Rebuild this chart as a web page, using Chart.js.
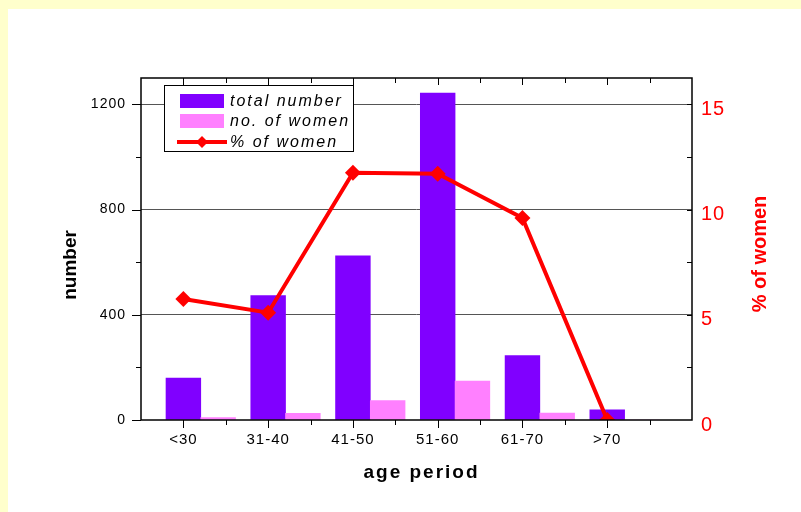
<!DOCTYPE html>
<html>
<head>
<meta charset="utf-8">
<script src="https://cdn.jsdelivr.net/npm/chart.js@4.4.1/dist/chart.umd.min.js"></script>
<style>
  html, body { margin: 0; padding: 0; background: #ffffcc; }
  #wrap { position: absolute; left: 8px; top: 9px; width: 793px; height: 503px; background: #fff; }
</style>
</head>
<body>
<div id="wrap"><canvas id="myChart"></canvas></div>
<script>
const categories = ['<30', '31-40', '41-50', '51-60', '61-70', '>70'];
const totalNumber = [159, 473, 624, 1243, 245, 39];
const womenNumber = [9, 25, 74, 148, 26, 0];
const womenPercent = [5.75, 5.1, 11.75, 11.7, 9.6, 0];
const leftTicks = [0, 400, 800, 1200];
const rightTicks = [0, 5, 10, 15];

const fontFamily = 'Arial, "Liberation Sans", sans-serif';
const womenShift = 0.41;   // pink bar sits just right of the purple one

// frame, small ticks, axis titles and the boxed legend
const decor = {
    id: 'decor',
    beforeDraw(chart) {
        chart.ctx.letterSpacing = '1px';
    },
    afterDraw(chart) {
        const ctx = chart.ctx;
        const a = chart.chartArea;
        const x = chart.scales.x, y = chart.scales.y, y2 = chart.scales.y2;
        ctx.save();
        ctx.letterSpacing = '0px';
        ctx.strokeStyle = '#000';
        ctx.lineWidth = 1.5;
        ctx.strokeRect(a.left, a.top, a.right - a.left, a.bottom - a.top);

        ctx.lineWidth = 1;
        ctx.beginPath();
        for (let v = 0; v <= 5.5; v += 0.5) {
            const px = Math.round(x.getPixelForValue(v)) + 0.5;
            const major = Number.isInteger(v);
            ctx.moveTo(px, a.bottom);
            ctx.lineTo(px, a.bottom + (major ? 8 : 5));
            ctx.moveTo(px, a.top);
            ctx.lineTo(px, a.top + (major ? 7 : 5));
        }
        for (let v = 0; v <= 1200; v += 200) {
            const py = Math.round(y.getPixelForValue(v)) + 0.5;
            ctx.moveTo(a.left, py);
            ctx.lineTo(a.left - (v % 400 === 0 ? 9 : 5), py);
        }
        for (let v = 2.5; v <= 15; v += 2.5) {
            const py = Math.round(y2.getPixelForValue(v)) + 0.5;
            ctx.moveTo(a.right, py);
            ctx.lineTo(a.right - 5, py);
        }
        ctx.stroke();

        // axis titles
        ctx.textAlign = 'center';
        ctx.textBaseline = 'middle';
        ctx.font = 'bold 19px ' + fontFamily;
        ctx.fillStyle = '#000';
        ctx.save();
        ctx.translate(a.left - 70, a.top + 187);
        ctx.rotate(-Math.PI / 2);
        ctx.fillText('number', 0, 0);
        ctx.restore();

        ctx.save();
        ctx.letterSpacing = '2px';
        ctx.fillText('age period', (a.left + a.right) / 2 + 5, a.bottom + 53);
        ctx.restore();

        ctx.save();
        ctx.fillStyle = '#ff0000';
        ctx.font = 'bold 20px ' + fontFamily;
        ctx.translate(a.right + 68, a.top + 176);
        ctx.rotate(-Math.PI / 2);
        ctx.fillText('% of women', 0, 0);
        ctx.restore();

        // legend
        const bx = a.left + 23, by = a.top + 7;
        ctx.fillStyle = '#fff';
        ctx.fillRect(bx, by, 189, 66);
        ctx.strokeStyle = '#000';
        ctx.lineWidth = 1;
        ctx.strokeRect(bx + 0.5, by + 0.5, 189, 66);

        const ds = chart.data.datasets;
        const rows = [16, 36, 57];
        ctx.fillStyle = ds[0].backgroundColor;
        ctx.fillRect(bx + 16, by + rows[0] - 7, 44, 14);
        ctx.fillStyle = ds[1].backgroundColor;
        ctx.fillRect(bx + 16, by + rows[1] - 7, 44, 14);
        ctx.strokeStyle = ds[2].borderColor;
        ctx.lineWidth = 4;
        ctx.beginPath();
        ctx.moveTo(bx + 13, by + rows[2]);
        ctx.lineTo(bx + 63, by + rows[2]);
        ctx.stroke();
        ctx.fillStyle = ds[2].borderColor;
        ctx.beginPath();
        const cx = bx + 38, cy = by + rows[2];
        ctx.moveTo(cx - 6, cy); ctx.lineTo(cx, cy - 6); ctx.lineTo(cx + 6, cy); ctx.lineTo(cx, cy + 6);
        ctx.closePath();
        ctx.fill();

        ctx.fillStyle = '#000';
        ctx.textAlign = 'left';
        ctx.font = 'italic 16px ' + fontFamily;
        ctx.letterSpacing = '2px';
        for (let i = 0; i < 3; i++) {
            ctx.fillText(ds[i].label, bx + 66, by + rows[i] + 1);
        }
        ctx.restore();
    }
};

const ctx = document.getElementById('myChart');

const myChart = new Chart(ctx, {
    type: 'bar',
    data: {
        datasets: [{
            label: 'total number',
            data: categories.map((c, i) => ({ x: i, y: totalNumber[i] })),
            backgroundColor: '#8000ff',
            grouped: false,
            barPercentage: 1,
            categoryPercentage: 1,
            yAxisID: 'y',
            order: 2
        }, {
            label: 'no. of women',
            data: categories.map((c, i) => ({ x: i + womenShift, y: womenNumber[i] })),
            backgroundColor: '#ff80ff',
            grouped: false,
            barPercentage: 1,
            categoryPercentage: 1,
            yAxisID: 'y',
            order: 1
        }, {
            type: 'line',
            label: '% of women',
            data: categories.map((c, i) => ({ x: i, y: womenPercent[i] })),
            borderColor: '#ff0000',
            backgroundColor: '#ff0000',
            borderWidth: 4,
            pointStyle: 'rectRot',
            pointRadius: 8,
            pointBorderWidth: 0,
            pointBackgroundColor: '#ff0000',
            tension: 0,
            yAxisID: 'y2',
            order: 0
        }]
    },
    options: {
        responsive: true,
        maintainAspectRatio: false,
        animation: false,
        layout: { padding: { top: 69 } },
        plugins: {
            legend: { display: false },
            tooltip: { enabled: false }
        },
        scales: {
            x: {
                type: 'linear',
                position: 'bottom',
                offset: false,
                min: -0.5,
                max: 6,
                afterBuildTicks: (s) => { s.ticks = categories.map((c, i) => ({ value: i })); },
                afterFit: (s) => { s.height = 92; },
                grid: { display: false, offset: false },
                border: { display: false },
                ticks: {
                    autoSkip: false,
                    maxRotation: 0,
                    padding: 3,
                    color: '#000',
                    font: { family: fontFamily, size: 15 },
                    callback: (v) => categories[v]
                }
            },
            y: {
                position: 'left',
                min: 0,
                max: 1300,
                afterBuildTicks: (s) => { s.ticks = leftTicks.map((v) => ({ value: v })); },
                afterFit: (s) => { s.width = 133; },
                border: { display: false },
                grid: {
                    drawTicks: false,
                    lineWidth: 1,
                    color: (c) => (c.tick && c.tick.value > 0) ? '#555' : 'transparent'
                },
                ticks: {
                    autoSkip: false,
                    padding: 15,
                    color: '#000',
                    font: { family: fontFamily, size: 14 },
                    callback: (v) => v
                }
            },
            y2: {
                position: 'right',
                min: 0,
                max: 16.25,
                afterBuildTicks: (s) => { s.ticks = rightTicks.map((v) => ({ value: v })); },
                afterFit: (s) => { s.width = 109; },
                border: { display: false },
                grid: { display: false, drawTicks: false },
                ticks: {
                    autoSkip: false,
                    padding: 9,
                    labelOffset: 5,
                    color: '#ff0000',
                    font: { family: fontFamily, size: 20 },
                    callback: (v) => v
                }
            }
        }
    },
    plugins: [decor]
});
</script>
</body>
</html>
